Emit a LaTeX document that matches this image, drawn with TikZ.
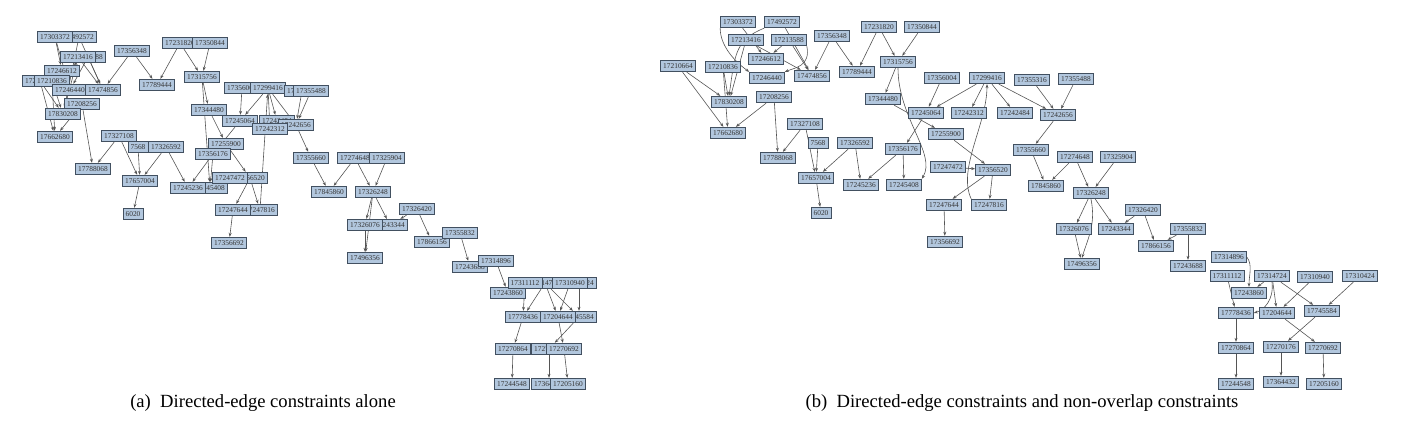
\documentclass[tikz,border=0pt]{standalone}
\usepackage{fontspec}
\setmainfont{Liberation Serif}
\usetikzlibrary{arrows.meta}
\pgfdeclarelayer{bg}
\pgfsetlayers{bg,main}
\definecolor{nodefill}{RGB}{178,199,222}
\definecolor{nodeline}{RGB}{66,80,96}
\definecolor{edgecol}{RGB}{85,85,85}
\tikzset{
  nd/.style={draw=nodeline, fill=nodefill, line width=0.85pt,
    font=\fontsize{7.4}{8}\selectfont, text=black!80,
    inner xsep=2.6pt, inner ysep=0pt, minimum height=11.5pt},
  ed/.style={draw=edgecol, line width=0.6pt, -{Stealth[length=4pt,width=3pt]}},
  captxt/.style={font=\fontsize{18.6}{20}\selectfont, inner sep=0pt}
}
\def\straightedges{17303372/17246612, 17492572/17474856, 17213416/17830208, 17213416/17474856,
 17213588/17474856, 17213588/17246612, 17356348/17474856, 17356348/17789444,
 17231820/17789444, 17231820/17315756, 17350844/17315756, 17210664/17830208, 17210664/17662680,
 17210836/17830208, 17210836/17662680, 17208256/17662680, 17208256/17788068, 17327108/17788068,
 17327108/17657004, 7568/17657004, 17326592/17657004, 17326592/17245236, 17657004/6020,
 17315756/17344480, 17344480/17255900, 17356004/17245064, 17299416/17245064, 17299416/17242312,
 17299416/17242484, 17299416/17242656, 17355316/17242656, 17355488/17242656, 17245064/17356176,
 17356176/17245236, 17356176/17245408, 17255900/17356520, 17247472/17356520, 17356520/17247644,
 17356520/17247816, 17247644/17356692, 17242656/17355660, 17355660/17845860, 17274648/17845860,
 17274648/17326248, 17325904/17326248, 17326248/17326076, 17326248/17243344, 17326076/17496356,
 17326420/17866156, 17326420/17243344, 17355832/17243688, 17355832/17866156, 17311112/17778436,
 17314724/17243860, 17314724/17204644, 17314724/17745584, 17310940/17204644, 17310424/17745584,
 17778436/17270864, 17204644/17270692, 17745584/17270176, 17270864/17244548, 17270176/17364432,
 17270692/17205160}
\def\curvededges{17303372/17246440, 17492572/17830208, 17213588/17246440, 17315756/17245408,
 17247816/17299416, 17326248/17496356, 17314896/17243860, 17314724/17778436}
\begin{document}
\begin{tikzpicture}[x=1pt,y=-1pt]
\useasboundingbox (0,0) rectangle (1406,428);
% ---------------- panel (a) ----------------
\foreach \n/\x/\y in {17492572/79/37, 17303372/55/37, 17213588/88/57, 17213416/78/57,
 17210664/40/81, 17246612/62/71, 17210836/52/81, 17246440/70/90, 17474856/103/90,
 17208256/82/104, 17830208/63/114, 17662680/55/137, 17356348/132/51, 17789444/157/85,
 17231820/180/43, 17350844/210/43, 17315756/202/77, 17344480/209/110, 17356004/242/88,
 17299416/268/88, 17355316/302/91, 17355488/311/91, 17245064/240/121, 17242484/277/121,
 17242656/296/125, 17242312/270/129, 17255900/226/144, 17327108/119/136, 7568/138/147,
 17326592/166/147, 17788068/93/169, 17657004/140/181, 17356176/213/154, 17245408/210/188,
 17245236/188/188, 17356520/250/178, 17247472/230/178, 17355660/311/158, 17274648/355/158,
 17325904/387/158, 17845860/329/192, 17326248/373/192, 6020/133/214, 17247816/260/210,
 17247644/233/210, 17356692/229/243, 17243344/390/225, 17326076/365/225, 17326420/417/209,
 17866156/432/242, 17355832/460/233, 17496356/365/258, 17243688/470/267, 17314896/496/261,
 17243860/508/293, 17314724/545/283, 17310424/579/283, 17311112/525/283, 17310940/570/283,
 17745584/579/317, 17204644/558/317, 17778436/523/317, 17270864/513/349, 17270176/549/349,
 17270692/564/349, 17244548/512/384, 17364432/549/384, 17205160/568/384}
  \node[nd] (a\n) at (\x,\y) {\n};
\begin{pgfonlayer}{bg}
\foreach \s/\t in \straightedges \draw[ed] (a\s) -- (a\t);
\foreach \s/\t in \curvededges \draw[ed] (a\s) -- (a\t);
\end{pgfonlayer}
% ---------------- panel (b) ----------------
\foreach \n/\x/\y in {17303372/738/22, 17492572/782/22, 17213416/746/40, 17213588/789/40,
 17246612/766/59, 17246440/767/78, 17474856/812/76, 17356348/832/36, 17789444/857/72,
 17231820/879/27, 17350844/922/27, 17315756/898/62, 17210664/678/66, 17210836/723/67,
 17830208/729/102, 17208256/774/97, 17662680/728/133, 17344480/883/99, 17356004/942/78,
 17299416/987/78, 17355316/1032/80, 17355488/1076/79, 17245064/926/113, 17242312/969/113,
 17242484/1015/113, 17242656/1058/115, 17255900/946/134, 17327108/805/124, 7568/818/143,
 17326592/855/143, 17788068/778/158, 17657004/816/178, 17356176/903/149, 17245236/861/185,
 17245408/904/185, 17247472/948/167, 17356520/993/170, 17355660/1031/150, 17274648/1075/157,
 17325904/1118/157, 17845860/1046/186, 17326248/1091/193, 6020/821/213, 17247644/944/205,
 17247816/989/205, 17356692/945/242, 17326076/1074/229, 17243344/1116/229, 17326420/1143/210,
 17355832/1188/229, 17866156/1156/246, 17496356/1082/264, 17243688/1188/266, 17314896/1229/257,
 17311112/1227/276, 17314724/1272/276, 17310940/1315/277, 17310424/1360/276, 17243860/1249/293,
 17778436/1236/313, 17204644/1277/313, 17745584/1322/311, 17270864/1236/348, 17270176/1281/347,
 17270692/1323/348, 17244548/1236/384, 17364432/1281/382, 17205160/1324/384}
  \node[nd] (b\n) at (\x,\y) {\n};
\begin{pgfonlayer}{bg}
\foreach \s/\t in \straightedges \draw[ed] (b\s) -- (b\t);
\draw[ed] (b17303372.south west) .. controls +(0,18) and +(-14,-10) .. (b17246440.north west);
\draw[ed] (b17492572.south west) .. controls +(-30,12) and +(6,-40) .. (b17830208.north);
\draw[ed] (b17213588.south east) .. controls +(4,20) and +(10,-4) .. (b17246440.north east);
\draw[ed] (b17315756.south) .. controls +(0,50) and +(15,-25) .. (b17245408.north east);
\draw[ed] (b17247816.north west) .. controls +(-14,-30) and +(0,40) .. (b17299416.south);
\draw[ed] (b17326248.south) .. controls +(5,25) and +(6,-20) .. (b17496356.north);
\draw[ed] (b17314896.east) .. controls +(6,8) and +(0,-12) .. (b17243860.north);
\draw[ed] (b17314724.south) .. controls +(2,18) and +(10,-3) .. (b17778436.east);
\end{pgfonlayer}
% ---------------- captions ----------------
\node[captxt] (capa) at (263,403) {(a)\ \ Directed-edge constraints alone};
\node[captxt] (capb) at (1022,403) {(b)\ \ Directed-edge constraints and non-overlap constraints};
\end{tikzpicture}
\end{document}
